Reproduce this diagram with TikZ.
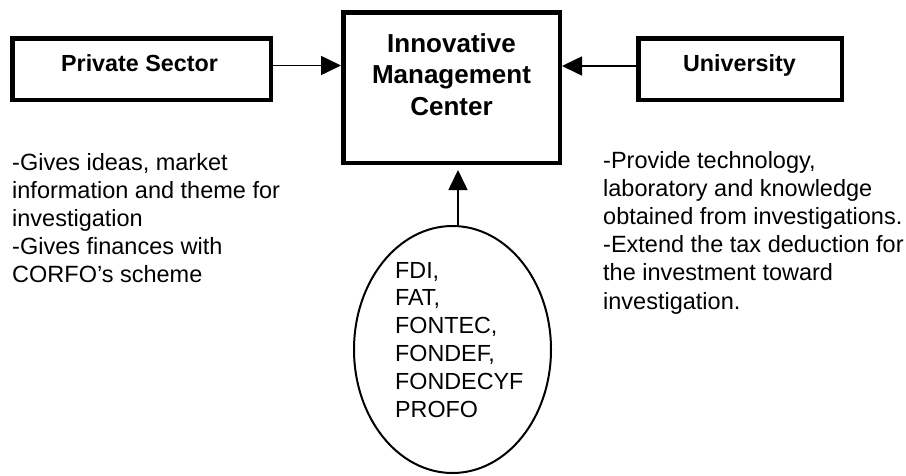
\documentclass[tikz,border=0pt]{standalone}
\usepackage{fontspec}
\setmainfont{Liberation Sans}
\usetikzlibrary{arrows.meta,shapes.geometric}
\begin{document}
\begin{tikzpicture}[x=1pt,y=-1pt,
  box/.style={draw,line width=4.5pt,inner sep=0pt,rectangle},
  lbl/.style={font=\fontsize{23.3}{28}\selectfont\bfseries,inner sep=0pt,anchor=base},
  body/.style={font=\fontsize{23.5}{28.2}\selectfont,inner sep=0pt,align=left,anchor=base west},
  arr/.style={line width=1.6pt,-{Triangle[length=20pt,width=19pt]}}]
\useasboundingbox (0,0) rectangle (906,475);
% boxes
\node[box,minimum width=258.5pt,minimum height=61.5pt] (ps) at (141.5,69) {};
\node[box,minimum width=203.5pt,minimum height=61.5pt] (uni) at (740,69) {};
\node[box,minimum width=216.5pt,minimum height=150.5pt] (imc) at (451.5,87.5) {};
\node[draw,ellipse,line width=2pt,inner sep=0pt,minimum width=197pt,minimum height=247pt] (fund) at (452.5,349.5) {};
% labels (multi-line nodes: base anchor = last line's baseline)
\node[lbl] (pst) at (139.5,71.7) {Private Sector};
\node[lbl] (unit) at (739.5,71.7) {University};
\node[lbl,font=\fontsize{26}{31.5}\selectfont\bfseries,align=center] (imct) at (451.5,115) {Innovative\\Management\\Center};
% body texts
\node[body] (pstxt) at (12,282.8) {-Gives ideas, market\\information and theme for\\investigation\\-Gives finances with\\CORFO’s scheme};
\node[body] (unitxt) at (603,309) {-Provide technology,\\laboratory and knowledge\\obtained from investigations.\\-Extend the tax deduction for\\the investment toward\\investigation.};
\node[body,font=\fontsize{23.3}{27.8}\selectfont] (fundt) at (395,417) {FDI,\\FAT,\\FONTEC,\\FONDEF,\\FONDECYF\\PROFO};
% connectors
\coordinate (pa) at ([yshift=3.5pt]ps.east);
\draw[arr] (pa) -- (pa -| imc.west);
\coordinate (ua) at ([yshift=3pt]uni.west);
\draw[arr] (ua) -- (ua -| imc.east);
\coordinate (fa) at ([xshift=5.5pt]fund.north);
\draw[arr,shorten >=5pt] (fa) -- (fa |- imc.south);
\end{tikzpicture}
\end{document}
